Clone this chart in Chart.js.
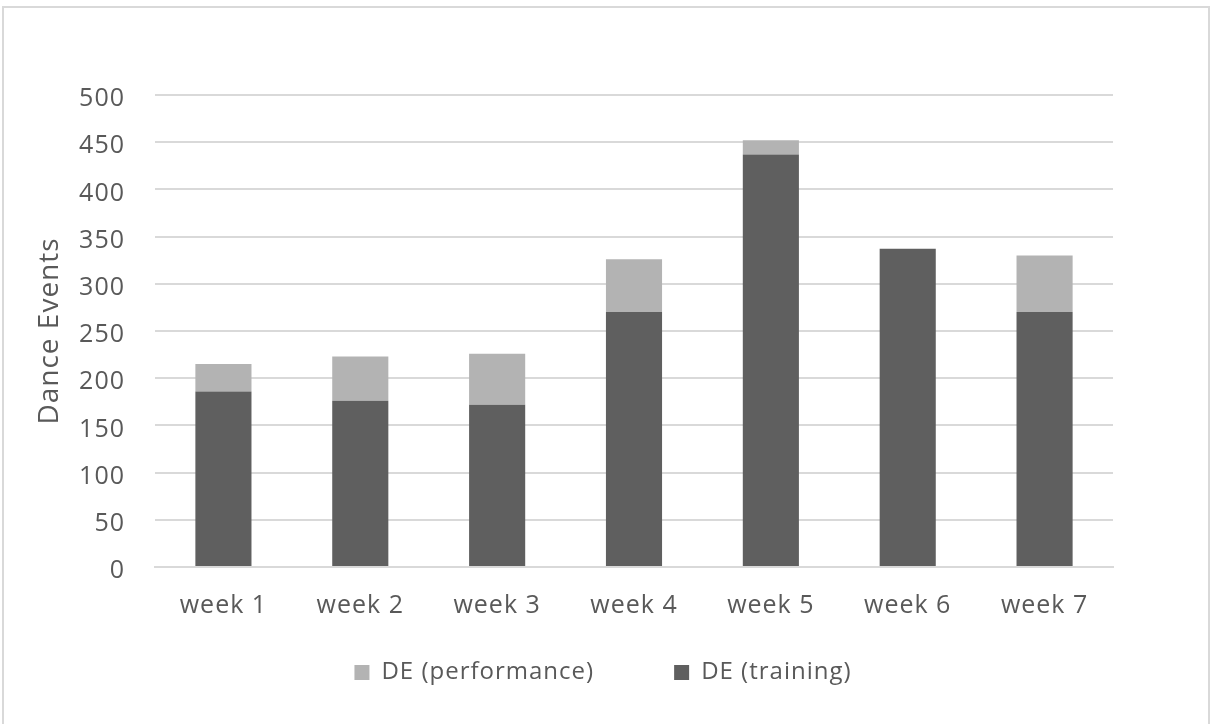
<!DOCTYPE html>
<html>
<head>
<meta charset="utf-8">
<script src="https://cdn.jsdelivr.net/npm/chart.js@4/dist/chart.umd.min.js"></script>
<style>
  html, body { margin: 0; padding: 0; background: #fff; }
  #wrap { position: relative; width: 1213px; height: 724px; }
  #frame { position: absolute; left: 2px; top: 6px; width: 1208px; height: 730px; border: 2px solid #d9d9d9; box-sizing: border-box; }
  canvas { position: absolute; left: 0; top: 0; }
</style>
</head>
<body>
<div id="wrap">
  <div id="frame"></div>
  <canvas id="c" width="1213" height="724"></canvas>
</div>
<script>
const categories = ["week 1", "week 2", "week 3", "week 4", "week 5", "week 6", "week 7"];
const training = [186, 176, 172, 270, 437, 337, 270];
const performance = [29, 47, 54, 56, 15, 0, 60];
const yTicks = [0, 50, 100, 150, 200, 250, 300, 350, 400, 450, 500];

const FONT = "'Open Sans', 'Liberation Sans', sans-serif";
const TXT = "#595959";
const LEGEND_PAD = 80;
const LEGEND_FONT = 24;

const spacing = {
  id: "spacing",
  beforeUpdate(chart) { chart.ctx.letterSpacing = "1px"; },
  beforeDraw(chart) { chart.ctx.letterSpacing = "1px"; },
  afterLayout(chart) {
    const lg = chart.legend;
    if (!lg) return;
    const itemH = LEGEND_FONT * 1.2;
    lg.top = 675 - itemH / 2 - LEGEND_PAD;
    lg.bottom = lg.top + 2 * LEGEND_PAD + itemH + 10;
    lg.height = lg.bottom - lg.top;
    const shift = 603 - (lg.left + lg.right) / 2;
    lg.left += shift; lg.right += shift;
  }
};

new Chart(document.getElementById("c"), {
  type: "bar",
  data: {
    labels: categories,
    datasets: [
      { label: "DE (training)", data: training, backgroundColor: "#5f5f5f", barPercentage: 0.82, categoryPercentage: 0.5 },
      { label: "DE (performance)", data: performance, backgroundColor: "#b3b3b3", barPercentage: 0.82, categoryPercentage: 0.5 }
    ]
  },
  plugins: [spacing],
  options: {
    responsive: false,
    animation: false,
    layout: { padding: { left: 33, right: 100, top: 95, bottom: 17 } },
    plugins: {
      legend: {
        position: "bottom",
        reverse: true,
        maxHeight: 80,
        labels: { boxWidth: 15, boxHeight: 15, padding: LEGEND_PAD, color: TXT, font: { family: FONT, size: LEGEND_FONT } }
      },
      tooltip: { enabled: false }
    },
    scales: {
      x: {
        stacked: true,
        grid: { display: false, drawTicks: false },
        border: { color: "#d9d9d9", width: 2 },
        ticks: { color: TXT, padding: 24, font: { family: FONT, size: 25 } },
        afterFit: s => { s.height = 60; }
      },
      y: {
        stacked: true,
        min: 0, max: 500,
        afterBuildTicks: s => { s.ticks = yTicks.map(v => ({ value: v })); },
        grid: { color: "#d9d9d9", lineWidth: 2, drawTicks: false },
        border: { display: false },
        ticks: { color: TXT, padding: 30, labelOffset: 4, font: { family: FONT, size: 25 } },
        title: { display: true, text: "Dance Events", color: TXT, font: { family: FONT, size: 28 }, padding: 0 },
        afterFit: s => { s.width = 122; }
      }
    }
  }
});
</script>
</body>
</html>
